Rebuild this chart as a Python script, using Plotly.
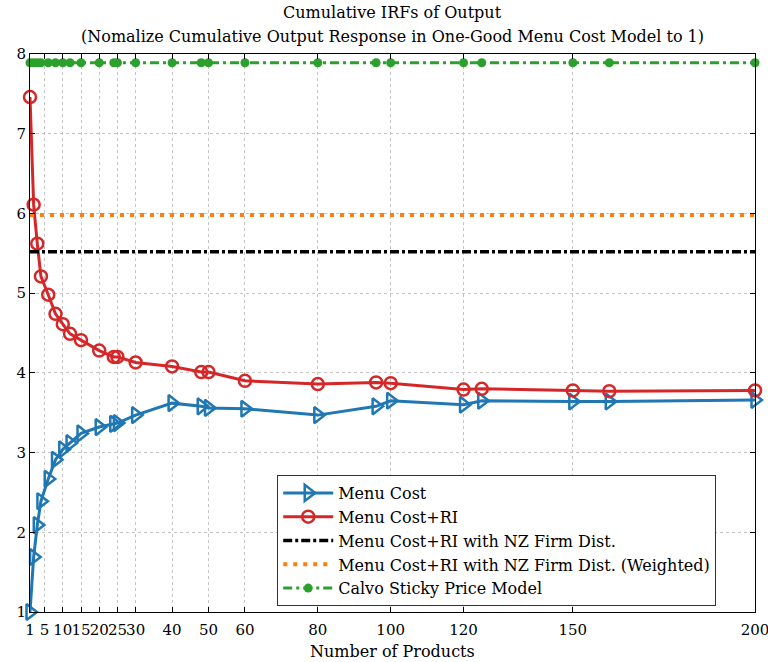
import plotly.graph_objects as go

products = [1, 2, 3, 4, 6, 8, 10, 12, 15, 20, 24, 25, 30, 40, 48, 50, 60, 80, 96, 100, 120, 125, 150, 160, 200]
menu_cost = [1.00, 1.69, 2.09, 2.39, 2.67, 2.91, 3.04, 3.12, 3.24, 3.32, 3.36, 3.37, 3.47, 3.62, 3.58, 3.56, 3.55, 3.47, 3.58, 3.65, 3.60, 3.65, 3.64, 3.64, 3.66]
menu_cost_ri = [7.46, 6.11, 5.62, 5.21, 4.98, 4.74, 4.61, 4.49, 4.41, 4.28, 4.20, 4.20, 4.13, 4.08, 4.01, 4.01, 3.90, 3.86, 3.88, 3.87, 3.79, 3.80, 3.78, 3.77, 3.78]
nz_dist = 5.52
nz_weighted = 5.98
calvo = 7.89

x_ticks = [1, 5, 10, 15, 20, 25, 30, 40, 50, 60, 80, 100, 120, 150, 200]
y_ticks = [1, 2, 3, 4, 5, 6, 7, 8]

title_lines = ["Cumulative IRFs of Output",
               "(Nomalize Cumulative Output Response in One-Good Menu Cost Model to 1)"]
x_title = "Number of Products"

FONT = "DejaVu Serif"
FS = 16

fig = go.Figure()
fig.add_trace(go.Scatter(
    x=products, y=menu_cost, name="Menu Cost", mode="lines+markers",
    line=dict(color="#1f77b4", width=3),
    marker=dict(symbol="triangle-right-open", size=14, color="#1f77b4", line=dict(width=2.5, color="#1f77b4")),
    cliponaxis=False))
fig.add_trace(go.Scatter(
    x=products, y=menu_cost_ri, name="Menu Cost+RI", mode="lines+markers",
    line=dict(color="#d62728", width=3),
    marker=dict(symbol="circle-open", size=12, color="#d62728", line=dict(width=2.5, color="#d62728")),
    cliponaxis=False))
fig.add_trace(go.Scatter(
    x=products, y=[nz_dist] * len(products), name="Menu Cost+RI with NZ Firm Dist.", mode="lines",
    line=dict(color="black", width=3.5, dash="9px,3px,3px,3px")))
fig.add_trace(go.Scatter(
    x=products, y=[nz_weighted] * len(products), name="Menu Cost+RI with NZ Firm Dist. (Weighted)", mode="lines",
    line=dict(color="#ff7f0e", width=4, dash="4px,6px")))
fig.add_trace(go.Scatter(
    x=products, y=[calvo] * len(products), name="Calvo Sticky Price Model", mode="lines+markers",
    line=dict(color="#2ca02c", width=3, dash="9px,4px,3px,4px"),
    marker=dict(symbol="circle", size=9, color="#2ca02c"),
    cliponaxis=False))

fig.update_layout(
    width=768, height=662,
    margin=dict(l=30, r=13, t=54, b=50, autoexpand=False),
    paper_bgcolor="white", plot_bgcolor="white",
    font=dict(family=FONT, size=FS, color="black"),
    showlegend=True,
    legend=dict(x=0.341, y=0.2455, xanchor="left", yanchor="top",
                bgcolor="white", bordercolor="#333333", borderwidth=1,
                font=dict(family=FONT, size=FS, color="black"),
                itemwidth=50, tracegroupgap=0),
    annotations=[
        dict(text=title_lines[0], x=0.5, xref="paper", y=1.0735, yref="paper",
             xanchor="center", yanchor="middle", showarrow=False, font=dict(family=FONT, size=FS)),
        dict(text=title_lines[1], x=0.5, xref="paper", y=1.0305, yref="paper",
             xanchor="center", yanchor="middle", showarrow=False, font=dict(family=FONT, size=FS)),
        dict(text=x_title, x=0.5, xref="paper", y=-0.0699, yref="paper",
             xanchor="center", yanchor="middle", showarrow=False, font=dict(family=FONT, size=FS)),
    ],
)
fig.update_xaxes(range=[1, 200], tickvals=x_ticks, ticktext=[str(v) for v in x_ticks], tickangle=0,
                 ticks="inside", ticklen=5, tickcolor="black", showline=True, linecolor="black", linewidth=1,
                 mirror="ticks", showgrid=True, gridcolor="#c4c4c4", griddash="dot", gridwidth=1,
                 zeroline=False, tickfont=dict(family=FONT, size=15), automargin=False, ticklabelstandoff=4,
                 ticklabeloverflow="allow")
fig.update_yaxes(range=[1, 8], tickvals=y_ticks, ticks="inside", ticklen=5, tickcolor="black",
                 showline=True, linecolor="black", linewidth=1, mirror="ticks",
                 showgrid=True, gridcolor="#c4c4c4", griddash="dot", gridwidth=1,
                 zeroline=False, tickfont=dict(family=FONT, size=15), automargin=False,
                 ticklabeloverflow="allow")

fig.write_html("out.html")
